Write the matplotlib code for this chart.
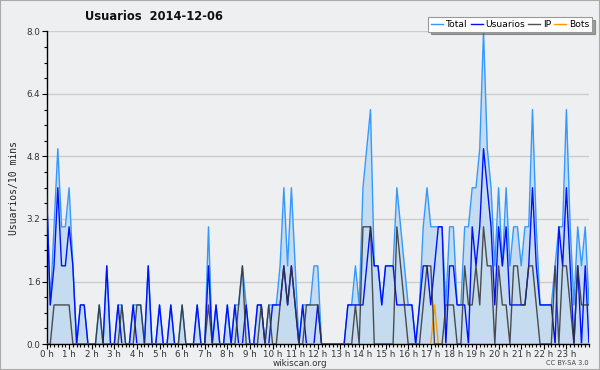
import numpy as np
import matplotlib
matplotlib.use("Agg")
import matplotlib.pyplot as plt
from matplotlib.patches import Rectangle


# one value per 10 minutes, 0:00 .. 24:00
total = [4, 1, 3, 5, 3, 3, 4, 2, 0, 1, 1, 0, 0, 0, 1, 0, 2, 0, 0, 1, 1, 0, 0, 1,
         1, 1, 0, 2, 0, 0, 1, 0, 0, 1, 0, 0, 1, 0, 0, 0, 1, 0, 0, 3, 0, 1, 0, 0,
         1, 0, 1, 1, 2, 1, 0, 0, 1, 1, 0, 1, 1, 1, 2, 4, 2, 4, 2, 0, 1, 1, 1, 2,
         2, 0, 0, 0, 0, 0, 0, 0, 1, 1, 2, 1, 4, 5, 6, 2, 2, 1, 2, 2, 2, 4, 3, 2,
         1, 1, 0, 1, 3, 4, 3, 3, 3, 3, 1, 3, 3, 1, 1, 3, 3, 4, 4, 5, 8, 5, 4, 2,
         4, 2, 4, 2, 3, 3, 2, 3, 3, 6, 3, 1, 1, 1, 1, 2, 3, 3, 6, 3, 1, 3, 2, 3,
         1]
usuarios = [4, 1, 2, 4, 2, 2, 3, 2, 0, 1, 1, 0, 0, 0, 0, 0, 2, 0, 0, 1, 0, 0, 0, 1,
            0, 0, 0, 2, 0, 0, 1, 0, 0, 1, 0, 0, 0, 0, 0, 0, 1, 0, 0, 2, 0, 1, 0, 0,
            1, 0, 1, 0, 0, 1, 0, 0, 1, 1, 0, 0, 1, 1, 1, 2, 1, 2, 1, 0, 1, 0, 0, 0,
            1, 0, 0, 0, 0, 0, 0, 0, 1, 1, 1, 1, 1, 2, 3, 2, 2, 1, 2, 2, 2, 1, 1, 1,
            1, 1, 0, 1, 2, 2, 1, 2, 3, 3, 0, 2, 2, 1, 1, 1, 0, 3, 2, 3, 5, 4, 3, 1,
            3, 2, 3, 1, 1, 1, 1, 1, 2, 4, 2, 1, 1, 1, 1, 0, 3, 2, 4, 2, 0, 2, 0, 2,
            0]
ip = [0, 0, 1, 1, 1, 1, 1, 0, 0, 0, 0, 0, 0, 0, 1, 0, 0, 0, 0, 0, 1, 0, 0, 0,
      1, 1, 0, 0, 0, 0, 0, 0, 0, 0, 0, 0, 1, 0, 0, 0, 0, 0, 0, 1, 0, 0, 0, 0,
      0, 0, 0, 1, 2, 0, 0, 0, 0, 1, 0, 1, 0, 0, 1, 2, 1, 2, 1, 0, 0, 1, 1, 1,
      1, 0, 0, 0, 0, 0, 0, 0, 0, 0, 1, 0, 3, 3, 3, 0, 0, 0, 0, 0, 0, 3, 2, 1,
      0, 0, 0, 0, 1, 2, 2, 0, 0, 0, 1, 1, 1, 0, 0, 2, 1, 1, 2, 1, 3, 2, 2, 0,
      2, 1, 1, 0, 2, 2, 1, 1, 2, 2, 1, 0, 0, 0, 0, 2, 0, 2, 2, 1, 0, 2, 1, 1,
      1]
bots = [0, 0, 0, 0, 0, 0, 0, 0, 0, 0, 0, 0, 0, 0, 0, 0, 0, 0, 0, 0, 0, 0, 0, 0,
        0, 0, 0, 0, 0, 0, 0, 0, 0, 0, 0, 0, 0, 0, 0, 0, 0, 0, 0, 0, 0, 0, 0, 0,
        0, 0, 0, 0, 0, 0, 0, 0, 0, 0, 0, 0, 0, 0, 0, 0, 0, 0, 0, 0, 0, 0, 0, 0,
        0, 0, 0, 0, 0, 0, 0, 0, 0, 0, 0, 0, 0, 0, 0, 0, 0, 0, 0, 0, 0, 0, 0, 0,
        0, 0, 0, 0, 0, 0, 0, 1, 0, 0, 0, 0, 0, 0, 0, 0, 0, 0, 0, 0, 0, 0, 0, 0,
        0, 0, 0, 0, 0, 0, 0, 0, 0, 0, 0, 0, 0, 0, 0, 0, 0, 0, 0, 0, 0, 0, 0, 0,
        0]
hour_labels = ["0 h", "1 h", "2 h", "3 h", "4 h", "5 h", "6 h", "7 h", "8 h", "9 h",
               "10 h", "11 h", "12 h", "13 h", "14 h", "15 h", "16 h", "17 h",
               "18 h", "19 h", "20 h", "21 h", "22 h", "23 h"]
y_ticks = [0.0, 1.6, 3.2, 4.8, 6.4, 8.0]

BG = "#eeeff0"
STEPS_PER_HOUR = 6

x = np.arange(len(total))

fig = plt.figure(figsize=(6, 3.7), dpi=100, facecolor=BG)
ax = fig.add_axes([46.5 / 600, 26 / 370, 542.5 / 600, 312.5 / 370], facecolor=BG)

for y in y_ticks[1:]:
    ax.axhline(y, color="#cccccc", lw=1, zorder=0)

ax.fill_between(x, total, 0, color="#c5dcf0", lw=0, zorder=1)
ax.plot(x, total, color="#3399ff", lw=1, label="Total", zorder=2)
ax.plot(x, usuarios, color="#0011ff", lw=1, label="Usuarios", zorder=3)
ax.plot(x, ip, color="#333333", lw=1, alpha=0.85, label="IP", zorder=4)
ax.plot(x, bots, color="#ff9900", lw=1, label="Bots", zorder=3.5)

ax.set_xlim(0, len(total) - 1)
ax.set_ylim(0, 8)

ax.set_xticks(np.arange(len(hour_labels)) * STEPS_PER_HOUR, labels=hour_labels)
ax.set_xticks(x, minor=True)
ax.set_yticks(y_ticks, labels=["%.1f" % v for v in y_ticks])
ax.set_yticks(np.arange(0, 8.01, 0.4), minor=True)
ax.tick_params(axis="both", which="major", labelsize=6.3, colors="#000000",
               labelcolor="#333333", length=3.5, width=0.8, pad=1)
ax.tick_params(axis="both", which="minor", length=2, width=0.8)

for side in ["top", "right"]:
    ax.spines[side].set_visible(False)
ax.spines["left"].set_linewidth(1)
ax.spines["bottom"].set_linewidth(1)

ax.set_ylabel("Usuarios/10 mins", family="DejaVu Sans Mono", fontsize=7,
              color="#222222", labelpad=5)

fig.text(85 / 600, 1 - 16 / 370, "Usuarios  2014-12-06", fontsize=8.3,
         fontweight="bold", va="center", ha="left", color="#111111")
fig.text(300 / 600, 1 - 363 / 370, "wikiscan.org", fontsize=6.3,
         ha="center", va="center", color="#333333")
fig.text(589 / 600, 1 - 363 / 370, "CC BY-SA 3.0", fontsize=4.8,
         ha="right", va="center", color="#444444")

leg = ax.legend(loc="upper right", bbox_to_anchor=(592 / 600, 1 - 17 / 370),
                bbox_transform=fig.transFigure, ncol=4, fontsize=6.6,
                handlelength=1.3, handletextpad=0.3, columnspacing=0.35,
                borderpad=0.3, borderaxespad=0, fancybox=False, shadow=True,
                framealpha=1, edgecolor="#999999")
leg.get_frame().set_linewidth(0.8)

fig.patches.append(Rectangle((0, 0), 1, 1, transform=fig.transFigure,
                             fill=False, edgecolor="#aaaaaa", lw=1.5))

fig.savefig("out.png", dpi=100, facecolor=BG)
plt.close(fig)
